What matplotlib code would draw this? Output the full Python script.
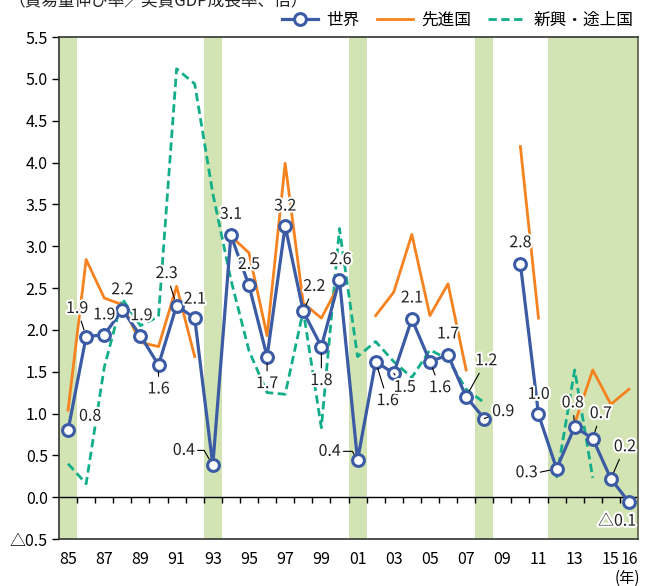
import numpy as np
import matplotlib
matplotlib.use('Agg')
import matplotlib.pyplot as plt
import matplotlib.patheffects as pe
from matplotlib.lines import Line2D

plt.rcParams['font.family'] = ['Noto Sans CJK JP', 'DejaVu Sans']

years = ['85', '86', '87', '88', '89', '90', '91', '92', '93', '94', '95',
         '96', '97', '98', '99', '00', '01', '02', '03', '04', '05', '06',
         '07', '08', '09', '10', '11', '12', '13', '14', '15', '16']
shown_years = ['85', '87', '89', '91', '93', '95', '97', '99', '01', '03',
               '05', '07', '09', '11', '13', '15', '16']
shaded_years = ['85', '93', '01', '08', '12', '13', '14', '15', '16']

nan = np.nan
world = [0.80, 1.92, 1.94, 2.24, 1.93, 1.58, 2.29, 2.14, 0.38, 3.13, 2.53,
         1.68, 3.24, 2.22, 1.80, 2.60, 0.44, 1.62, 1.48, 2.13, 1.62, 1.70,
         1.20, 0.94, nan, 2.79, 0.99, 0.34, 0.84, 0.70, 0.22, -0.06]
advanced = [1.04, 2.84, 2.38, 2.30, 1.85, 1.80, 2.52, 1.68, nan, 3.12, 2.92,
            1.93, 3.99, 2.32, 2.14, 2.55, nan, 2.17, 2.45, 3.14, 2.17, 2.55,
            1.52, nan, nan, 4.19, 2.14, nan, 0.88, 1.52, 1.11, 1.29]
emerging = [0.40, 0.16, 1.55, 2.37, 2.05, 2.16, 5.12, 4.94, 3.63, 2.60, 1.75,
            1.25, 1.23, 2.23, 0.83, 3.21, 1.68, 1.86, 1.62, 1.43, 1.76, 1.65,
            1.29, 1.13, nan, nan, nan, 0.23, 1.52, 0.23, nan, nan]

# label offsets from the marker (pixels) and leader style:
# None = no leader, 's' = straight, 'a' = horizontal then slanted
label_pos = {
    '85': (22, 14, None), '86': (-9, 28, 's'), '87': (0, 20, None),
    '88': (0, 20, None), '89': (1, 20, None), '90': (0, -24, 's'),
    '91': (-10, 32, 's'), '92': (0, 19, None), '93': (-29, 15, 'a'),
    '94': (0, 21, None), '95': (0, 21, None), '96': (0, -27, 's'),
    '97': (0, 20, None), '98': (11, 25, 's'), '99': (0, -34, 's'),
    '00': (1, 20, None), '01': (-28, 9, 'a'), '02': (12, -39, 's'),
    '03': (11, -14, 's'), '04': (0, 21, None), '05': (10, -26, 's'),
    '06': (0, 21, None), '07': (20, 36, 's'), '08': (19, 7, 's'),
    '10': (0, 21, None), '11': (0, 20, None), '12': (-30, -4, 'h'),
    '13': (-2, 24, 's'), '14': (8, 25, 's'), '15': (14, 32, 's'),
    '16': (-12, -19, None),
}

BLUE = '#3b5ba5'
ORANGE = '#f5821f'
GREEN = '#12ae8a'
BAND = '#d2e4b3'
DASH = (0, (3, 1.6))

x = np.arange(len(years))

fig = plt.figure(figsize=(6.48, 5.86), dpi=100)
ax = fig.add_axes([59 / 648, 47 / 586, 579 / 648, 502 / 586])

for yr in shaded_years:
    i = years.index(yr)
    ax.axvspan(i - 0.5, i + 0.5, color=BAND, lw=0, zorder=0)

ax.axhline(0, color='black', lw=1.0, zorder=1)
ax.vlines(np.arange(0.5, len(years) - 1, 1), -0.072, 0, color='black',
          lw=1.0, zorder=1)

ax.plot(x, emerging, color=GREEN, lw=2.0, ls=DASH, zorder=2)
ax.plot(x, advanced, color=ORANGE, lw=2.0, zorder=3)
ax.plot(x, world, color=BLUE, lw=2.3, marker='o', ms=8.5,
        mfc='white', mec=BLUE, mew=2.2, zorder=4)

halo = [pe.withStroke(linewidth=3, foreground='white')]
for i, yr in enumerate(years):
    v = world[i]
    if np.isnan(v):
        continue
    dx, dy, lead = label_pos[yr]
    txt = '%.1f' % v if v >= 0 else '△%.1f' % abs(v)
    props = None
    if lead == 's':
        props = dict(arrowstyle='-', color='black', lw=0.8,
                     shrinkA=1, shrinkB=5)
    elif lead == 'a':
        props = dict(arrowstyle='-', color='black', lw=0.8,
                     shrinkA=0, shrinkB=5, relpos=(1, 0.5),
                     connectionstyle='angle,angleA=0,angleB=120,rad=0')
    elif lead == 'h':
        props = dict(arrowstyle='-', color='black', lw=0.8,
                     shrinkA=0, shrinkB=5, relpos=(1, 0.5))
    ax.annotate(txt, (i, v), xytext=(dx, dy), textcoords='offset pixels',
                ha='center', va='center', fontsize=11.5, color='#222222',
                arrowprops=props, path_effects=halo, zorder=5)

ax.set_xlim(-0.5, len(years) - 0.5)
ax.set_ylim(-0.5, 5.5)
ax.set_yticks(np.arange(-0.5, 5.51, 0.5))
ax.set_yticklabels(['△0.5'] + ['%.1f' % t for t in np.arange(0, 5.51, 0.5)])
ax.set_xticks([years.index(s) for s in shown_years])
ax.set_xticklabels(shown_years)
ax.tick_params(axis='x', length=0, pad=9, labelsize=11.5)
ax.tick_params(axis='y', length=5, width=1, pad=3, labelsize=11.5)
for s in ax.spines.values():
    s.set_color('#333333')
    s.set_linewidth(1.2)
ax.spines['right'].set_color('#5a5a48')

handles = [
    Line2D([], [], color=BLUE, lw=2.3, marker='o', ms=8.5, mfc='white',
           mec=BLUE, mew=2.2),
    Line2D([], [], color=ORANGE, lw=2.0),
    Line2D([], [], color=GREEN, lw=2.0, ls=DASH),
]
fig.legend(handles, ['世界', '先進国', '新興・途上国'], ncol=3,
           loc='center right', bbox_to_anchor=(1.0, 1 - 20 / 586),
           frameon=False, fontsize=12, handlelength=2.2, handletextpad=0.5,
           columnspacing=1.0)

fig.text(8 / 648, 1.0 - 1 / 586, '（貿易量伸び率／実質GDP成長率、倍）',
         ha='left', va='center', fontsize=12, color='#222222')
fig.text(627 / 648, 1 - 578 / 586, '(年)', ha='center', va='center',
         fontsize=11)

fig.savefig('out.png', dpi=100)
